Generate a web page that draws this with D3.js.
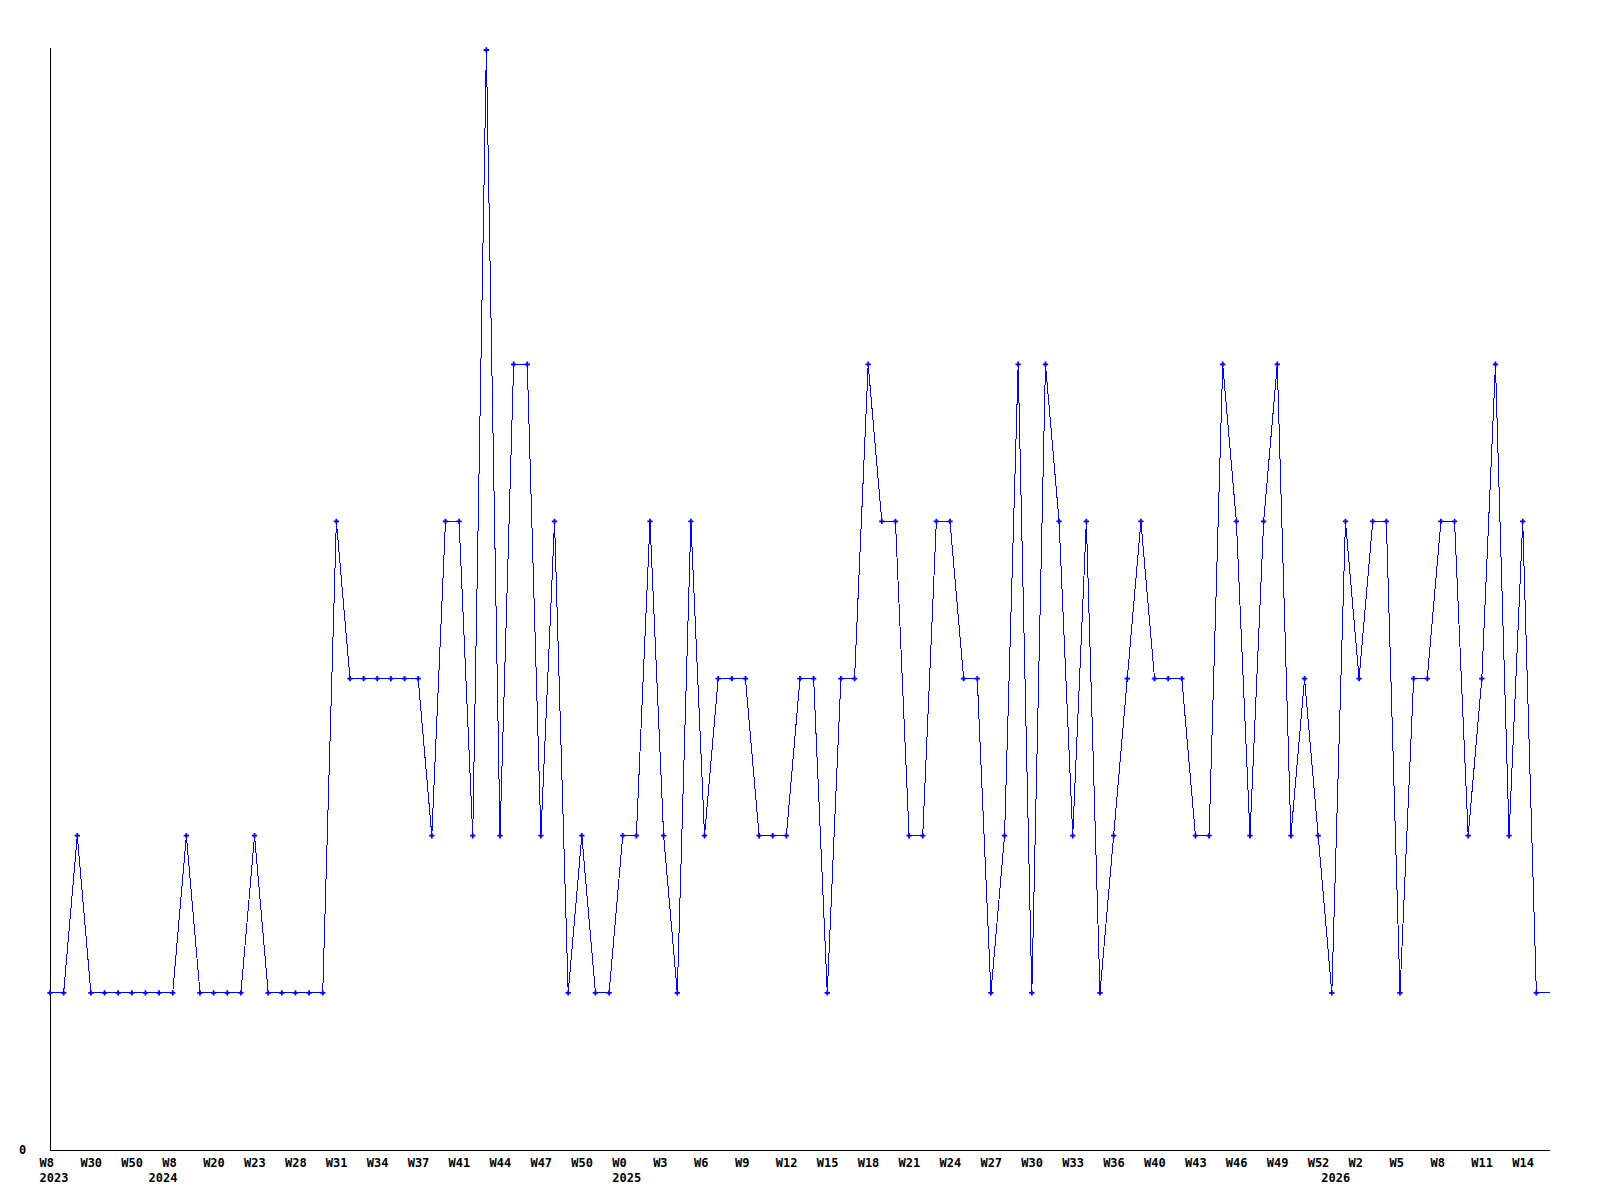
<!DOCTYPE html>
<html>
<head>
<meta charset="utf-8">
<script src="https://cdn.jsdelivr.net/npm/d3@7"></script>
<style>
    body { margin: 0; background: #fff; }
    text { font-family: "DejaVu Sans Mono", monospace; font-weight: bold; font-size: 12px; fill: #000; }
</style>
</head>
<body>
<div id="chart"></div>
<script>
// weekly counts, one per point
var values = [
    1, 1, 2, 1, 1, 1, 1, 1, 1, 1,
    2, 1, 1, 1, 1, 2, 1, 1, 1, 1,
    1, 4, 3, 3, 3, 3, 3, 3, 2, 4,
    4, 2, 7, 2, 5, 5, 2, 4, 1, 2,
    1, 1, 2, 2, 4, 2, 1, 4, 2, 3,
    3, 3, 2, 2, 2, 3, 3, 1, 3, 3,
    5, 4, 4, 2, 2, 4, 4, 3, 3, 1,
    2, 5, 1, 5, 4, 2, 4, 1, 2, 3,
    4, 3, 3, 3, 2, 2, 5, 4, 2, 4,
    5, 2, 3, 2, 1, 4, 3, 4, 4, 1,
    3, 3, 4, 4, 2, 3, 5, 2, 4, 1
];

// one label every third point
var weekLabels = ["W8", "W30", "W50", "W8", "W20", "W23", "W28", "W31", "W34", "W37",
    "W41", "W44", "W47", "W50", "W0", "W3", "W6", "W9", "W12", "W15",
    "W18", "W21", "W24", "W27", "W30", "W33", "W36", "W40", "W43", "W46",
    "W49", "W52", "W2", "W5", "W8", "W11", "W14"];
var yearLabels = ["2023", "2024", "2025", "2026"];
var yearIndex = [0, 8, 42, 94];
var yTicks = [0];

var width = 1600, height = 1200;
var svg = d3.select('#chart').append('svg')
    .attr('width', width)
    .attr('height', height);

var x = d3.scaleLinear().domain([0, values.length]).range([50, 1550]);
var y = d3.scaleLinear().domain([0, 7]).range([1150, 50]);

// axes
svg.append('line')
    .attr('x1', x(0)).attr('x2', x(0))
    .attr('y1', 48).attr('y2', y(0))
    .attr('stroke', '#000').attr('shape-rendering', 'crispEdges');
svg.append('line')
    .attr('x1', x(0)).attr('x2', x.range()[1])
    .attr('y1', y(0)).attr('y2', y(0))
    .attr('stroke', '#000').attr('shape-rendering', 'crispEdges');

svg.selectAll('text.ytick')
    .data(yTicks)
    .enter().append('text')
    .attr('class', 'ytick')
    .attr('x', 19)
    .attr('y', function (d) { return y(d) + 4; })
    .text(function (d) { return d; });

svg.selectAll('text.week')
    .data(weekLabels)
    .enter().append('text')
    .attr('class', 'week')
    .attr('x', function (d, i) { return x(i * 3) - 10.5; })
    .attr('y', 1167)
    .text(function (d) { return d; });

svg.selectAll('text.year')
    .data(yearLabels)
    .enter().append('text')
    .attr('class', 'year')
    .attr('x', function (d, i) { return x(yearIndex[i]) - 10.5; })
    .attr('y', 1182)
    .text(function (d) { return d; });

// line, carried on flat to the end of the axis
var pts = values.map(function (v, i) { return [i, v]; });
pts.push([values.length, values[values.length - 1]]);
var line = d3.line()
    .x(function (d) { return x(d[0]); })
    .y(function (d) { return y(d[1]); });
svg.append('path')
    .datum(pts)
    .attr('d', line)
    .attr('fill', 'none')
    .attr('stroke', '#0000ff')
    .attr('stroke-width', 1)
    .attr('shape-rendering', 'crispEdges');

svg.selectAll('path.pt')
    .data(values)
    .enter().append('path')
    .attr('class', 'pt')
    .attr('d', d3.symbol().type(d3.symbolCross).size(16))
    .attr('transform', function (d, i) { return 'translate(' + x(i) + ',' + y(d) + ')'; })
    .attr('fill', '#0000ff');
</script>
</body>
</html>
